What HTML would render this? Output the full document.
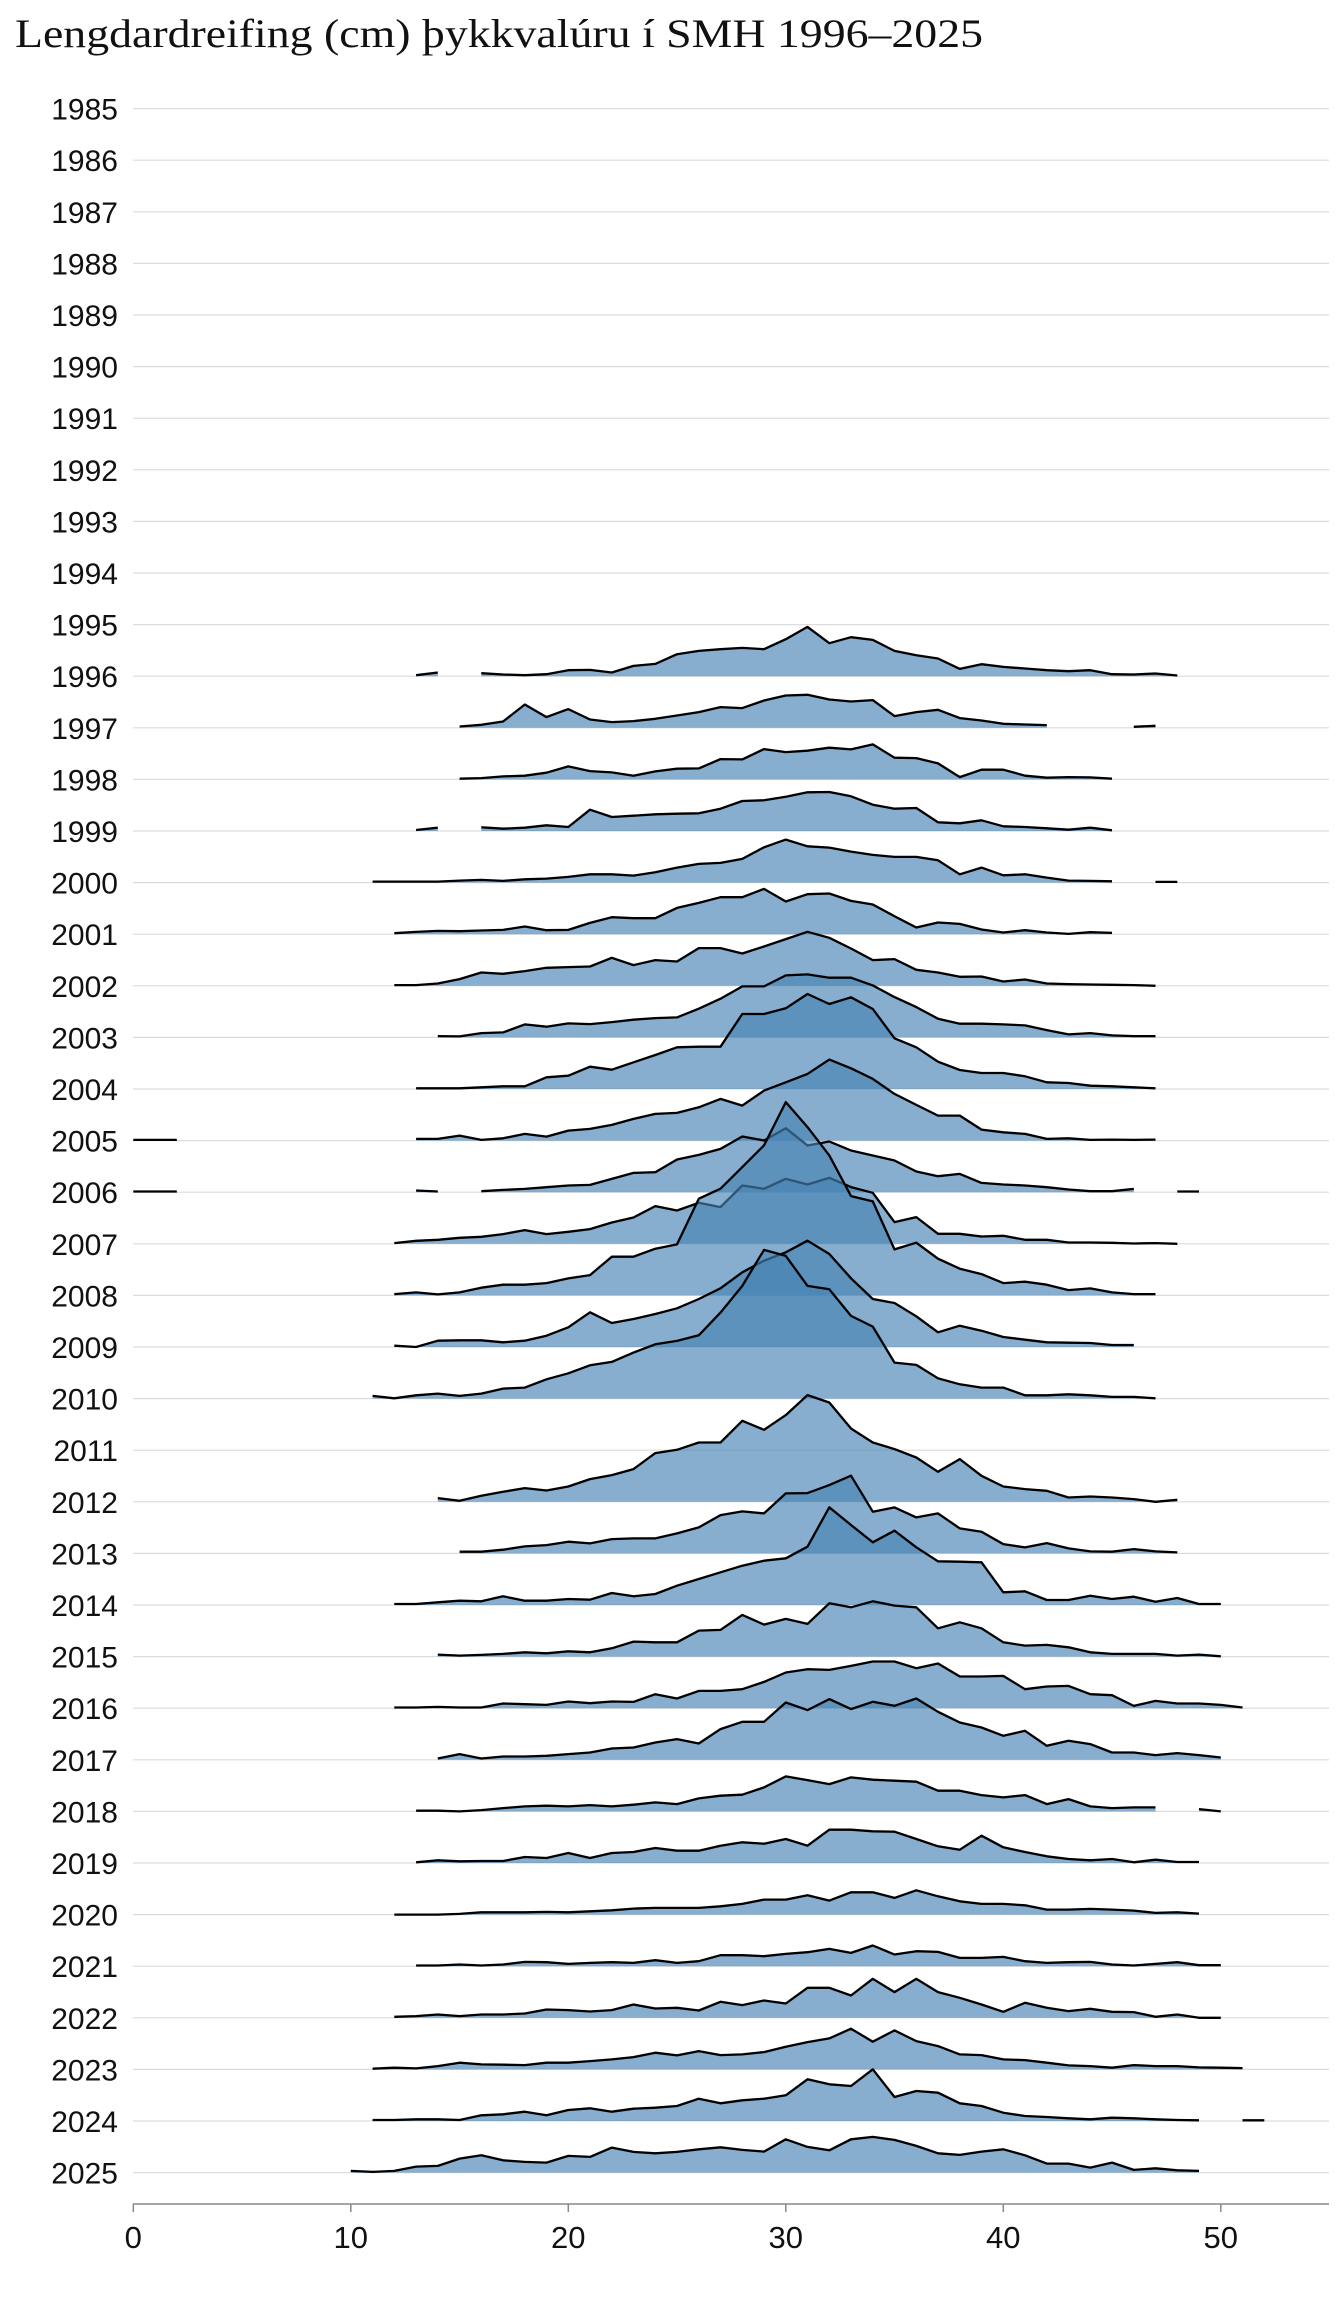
<!DOCTYPE html>
<html><head><meta charset="utf-8"><style>
html,body{margin:0;padding:0;background:#fff;}
svg{display:block;}
</style></head><body>
<svg id="c" width="1344" height="2304" xmlns="http://www.w3.org/2000/svg">
<text x="15" y="47" font-family="'Liberation Serif',serif" font-size="40" textLength="968" lengthAdjust="spacingAndGlyphs" fill="#111">Lengdardreifing (cm) þykkvalúru í SMH 1996–2025</text>
<g id="grid"></g>
<g id="ridges"></g>
<line x1="133" y1="2204" x2="1329" y2="2204" stroke="#888" stroke-width="1.5"/>
<g id="ticks"></g>
</svg>
<script>
var NS="http://www.w3.org/2000/svg";
function el(t,a,p,txt){var e=document.createElementNS(NS,t);for(var k in a)e.setAttribute(k,a[k]);if(txt!==undefined)e.textContent=txt;p.appendChild(e);return e;}
var g=document.getElementById('grid'),r=document.getElementById('ridges'),tk=document.getElementById('ticks');
function by(y){return 108.6+(y-1985)*51.6;}
function bx(c){return 133.3+21.75*c;}
for(var y=1985;y<=2025;y++){
 var yy=by(y);
 el('line',{x1:133,y1:yy,x2:1329,y2:yy,stroke:'#dcdcdc','stroke-width':1.2},g);
 el('text',{x:118,y:yy+11,'text-anchor':'end','font-family':"'Liberation Sans',Arial,sans-serif",'font-size':30,fill:'#111'},g,String(y));
}
[0,10,20,30,40,50].forEach(function(c){
 var x=bx(c);
 el('line',{x1:x,y1:2204,x2:x,y2:2212,stroke:'#888','stroke-width':1.5},tk);
 el('text',{x:x,y:2248,'text-anchor':'middle','font-family':"'Liberation Sans',Arial,sans-serif",'font-size':31,fill:'#111'},tk,String(c));
});
var D={
1996:[[13,[3,11]],[16,[9,5,3,6,18,19,11,31,37,66,76,81,85,81,111,148,99,117,109,76,63,53,22,36,28,23,18,15,18,6,5,8,2]]],
1997:[[15,[4,9,19,70,32,56,25,17,20,27,37,47,62,59,82,97,99,85,79,83,35,47,54,29,22,12,10,8]],[46,[3,6]]],
1998:[[15,[2,4,9,11,20,39,25,21,11,24,32,33,61,60,91,82,86,95,90,105,65,64,48,7,29,29,11,5,7,6,2]]],
1999:[[13,[3,10]],[16,[11,7,10,17,12,64,42,46,50,52,53,67,90,92,103,116,117,104,79,67,69,26,23,32,14,12,8,4,10,2]]],
2000:[[11,[3,3,3,3,6,8,5,10,12,17,25,25,21,31,45,56,59,71,106,129,109,105,93,83,77,77,67,25,45,22,25,15,6,5,4]],[47,[2,2]]],
2001:[[12,[3,7,10,9,11,13,23,12,13,34,51,48,48,79,94,111,111,136,98,120,122,100,89,54,20,35,31,14,5,12,5,1,6,4]]],
2002:[[12,[2,2,7,20,40,36,44,54,56,58,84,62,77,73,113,113,97,118,140,162,144,112,77,80,48,40,27,28,13,19,7,5,4,3,2,0]]],
2003:[[14,[4,3,13,15,39,32,42,40,46,53,58,60,86,116,153,153,186,189,179,179,156,121,91,56,41,41,39,36,22,9,13,6,4,4]]],
2004:[[13,[2,2,2,5,8,8,35,40,67,58,80,102,125,127,127,225,225,242,285,255,275,240,152,125,82,57,48,48,38,20,18,10,8,5,2]]],
2005:[[0,[2,2,2]],[13,[5,5,15,2,7,20,12,30,35,47,65,80,83,100,125,105,150,175,200,243,217,185,140,107,75,75,33,25,20,5,7,2,3,2,3]]],
2006:[[0,[2,2,2]],[13,[5,2]],[16,[3,7,10,15,20,22,40,58,60,98,112,130,167,155,192,140,152,125,110,95,62,48,55,28,23,20,15,8,3,3,10]],[48,[2,2]]],
2007:[[12,[2,9,12,18,21,29,41,29,36,44,64,79,113,100,123,110,175,165,195,178,198,170,153,65,80,30,30,22,24,12,12,4,4,3,1,2,0]]],
2008:[[12,[4,9,3,9,23,32,32,37,51,61,116,116,140,153,290,320,385,450,580,505,420,298,282,138,158,110,80,64,37,41,32,16,21,9,4,4]]],
2009:[[12,[4,0,19,20,20,14,19,34,59,104,72,84,99,116,144,176,224,259,284,319,279,206,144,132,92,44,64,49,30,22,14,13,12,6,6]]],
2010:[[11,[8,1,10,15,8,15,30,33,58,76,100,110,138,163,173,190,258,338,446,428,338,328,248,216,108,101,61,43,33,33,10,10,13,10,5,5,1]]],
2012:[[14,[11,3,18,30,41,34,46,68,80,98,146,156,178,178,243,216,260,320,298,220,178,158,133,90,128,78,46,38,33,13,16,13,8,0,6]]],
2013:[[15,[5,5,11,21,25,35,30,43,45,45,60,78,115,126,120,180,181,205,233,125,138,108,120,75,65,28,18,31,15,6,5,13,6,3]]],
2014:[[12,[3,3,8,13,11,26,13,13,18,16,36,26,33,58,78,98,118,133,140,175,293,240,188,223,173,131,130,128,38,41,15,15,28,18,25,10,21,3,3]]],
2015:[[14,[6,3,5,8,13,10,16,13,25,45,43,43,78,80,125,96,113,98,160,148,166,153,148,85,103,85,43,33,35,28,13,8,8,8,3,6,1]]],
2016:[[12,[2,2,4,2,2,14,12,10,20,15,20,19,42,29,52,52,57,79,107,117,115,127,140,140,120,134,95,95,97,57,65,67,42,39,7,22,14,14,10,2]]],
2017:[[14,[4,17,4,10,10,12,17,22,34,37,52,62,49,92,114,114,172,149,182,152,174,162,184,144,112,97,72,87,42,57,47,22,22,14,20,14,7]]],
2018:[[13,[2,2,0,4,10,15,17,15,19,15,20,27,22,39,47,50,72,105,94,82,102,95,92,89,62,62,49,42,49,22,37,15,10,12,12]],[49,[7,0]]],
2019:[[13,[2,8,5,6,6,18,15,30,15,30,33,45,37,37,52,62,58,72,52,100,100,95,94,72,50,40,82,47,33,20,12,8,12,2,10,3,3]]],
2020:[[12,[0,0,0,2,7,7,7,8,7,10,13,18,20,20,20,25,32,45,45,58,42,67,67,50,73,55,40,32,32,28,15,15,17,15,12,5,7,3]]],
2021:[[13,[2,2,5,2,5,13,12,7,10,12,10,18,10,15,33,33,30,37,42,52,40,62,35,45,43,25,25,28,15,10,12,13,5,2,7,12,3,3]]],
2022:[[12,[3,5,10,5,10,10,13,25,23,19,23,40,28,30,22,48,38,52,43,90,90,67,117,77,117,77,60,40,18,45,30,20,27,18,17,3,10,0,0]]],
2023:[[11,[2,5,3,10,20,15,14,13,20,20,25,30,37,50,42,55,43,45,52,68,82,93,122,83,117,85,70,45,43,30,28,20,12,10,5,13,10,10,6,5,4]]],
2024:[[11,[3,3,5,5,3,17,20,28,17,33,38,28,37,40,45,67,53,62,67,77,125,110,105,155,72,90,85,53,45,25,15,12,8,5,10,8,5,3,2]],[51,[2,2]]],
2025:[[10,[5,2,5,18,20,42,52,37,32,30,50,47,75,62,58,62,70,76,68,63,100,77,67,100,107,98,80,58,53,63,70,52,27,27,15,30,8,13,7,5]]]
};
Object.keys(D).sort().forEach(function(k){
 var base=by(+k);
 D[k].forEach(function(seg){
  var s=seg[0],v=seg[1],pts=[];
  for(var i=0;i<v.length;i++)pts.push(bx(s+i).toFixed(1)+','+(base-v[i]/3).toFixed(1));
  var line='M'+pts.join('L');
  var area=line+'L'+bx(s+v.length-1).toFixed(1)+','+base.toFixed(1)+'L'+bx(s).toFixed(1)+','+base.toFixed(1)+'Z';
  el('path',{d:area,fill:'#4682b4','fill-opacity':0.65,stroke:'none'},r);
  el('path',{d:line,fill:'none',stroke:'#000','stroke-width':2.3,'stroke-linejoin':'round'},r);
 });
});
</script>
</body></html>
